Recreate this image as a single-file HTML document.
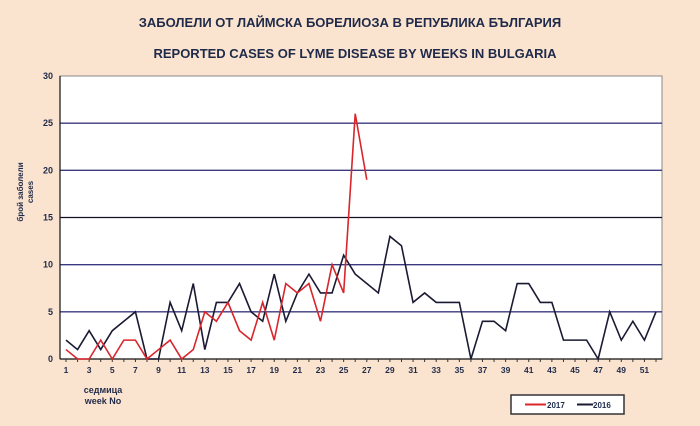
<!DOCTYPE html>
<html><head><meta charset="utf-8"><style>
body{margin:0;background:#fbe4cf;}
svg{display:block;font-family:"Liberation Sans",sans-serif;}
</style></head><body>
<svg id="c" width="700" height="426">
<rect width="700" height="426" fill="#fbe4cf"/>
<text x="350" y="27" text-anchor="middle" font-size="13" font-weight="bold" fill="#1f2a4a">ЗАБОЛЕЛИ ОТ ЛАЙМСКА БОРЕЛИОЗА В РЕПУБЛИКА БЪЛГАРИЯ</text>
<text x="355" y="58" text-anchor="middle" font-size="13" font-weight="bold" fill="#1f2a4a">REPORTED CASES OF LYME DISEASE BY WEEKS IN  BULGARIA</text>
<rect x="60" y="76" width="602" height="283" fill="#fff" stroke="#888"/>
<g id="grid"></g>
<g id="axes"></g>
<g id="lines"></g>
<text transform="translate(23,192) rotate(-90)" text-anchor="middle" font-size="8" font-weight="bold" fill="#1f2a4a">брой заболели</text>
<text transform="translate(33,192) rotate(-90)" text-anchor="middle" font-size="8" font-weight="bold" fill="#1f2a4a">cases</text>
<text x="103" y="393" text-anchor="middle" font-size="9" font-weight="bold" fill="#1f2a4a">седмица</text>
<text x="103" y="404" text-anchor="middle" font-size="9" font-weight="bold" fill="#1f2a4a">week No</text>
<g>
<rect x="511" y="395" width="113" height="19" fill="#fff" stroke="#333" stroke-width="1.5"/>
<line x1="525" y1="404.5" x2="546" y2="404.5" stroke="#d9252b" stroke-width="2"/>
<text x="547" y="408" font-size="8" font-weight="bold" fill="#1f2a4a">2017</text>
<line x1="577" y1="404.5" x2="593" y2="404.5" stroke="#1a1a33" stroke-width="2"/>
<text x="593" y="408" font-size="8" font-weight="bold" fill="#1f2a4a">2016</text>
</g>
</svg>
<script>
const weeks=[];for(let i=1;i<=52;i++)weeks.push(i);
const yTicks=[0,5,10,15,20,25,30];
const s2016=[2,1,3,1,3,4,5,0,0,6,3,8,1,6,6,8,5,4,9,4,7,9,7,7,11,9,8,7,13,12,6,7,6,6,6,0,4,4,3,8,8,6,6,2,2,2,0,5,2,4,2,5];
const s2017=[1,0,0,2,0,2,2,0,1,2,0,1,5,4,6,3,2,6,2,8,7,8,4,10,7,26,19];
const NS="http://www.w3.org/2000/svg";
const xs=w=>66+(w-1)*(656-66)/51;
const ys=v=>359-v*(283/30);
function mk(t,a,p){const e=document.createElementNS(NS,t);for(const k in a)e.setAttribute(k,a[k]);p.appendChild(e);return e;}
const grid=document.getElementById('grid'),axes=document.getElementById('axes'),lines=document.getElementById('lines');
yTicks.forEach(v=>{
 if(v>0&&v<30){const l=mk('line',{x1:60,x2:662,y1:ys(v),y2:ys(v),stroke:v==15?'#111122':'#3b3a80','stroke-width':1.3},grid);
 
 }
 const t=mk('text',{x:53,y:ys(v)+3,'text-anchor':'end','font-size':9,'font-weight':'bold',fill:'#1f2a4a'},axes);t.textContent=v;
 
 
});
mk('line',{x1:60,x2:60,y1:76,y2:359,stroke:'#111','stroke-width':1.2},axes);
mk('line',{x1:60,x2:662,y1:359,y2:359,stroke:'#111','stroke-width':1.2},axes);
weeks.forEach(w=>{
 mk('line',{x1:xs(w),x2:xs(w),y1:359,y2:362,stroke:'#333'},axes);
 if(w%2==1){const t=mk('text',{x:xs(w),y:373,'text-anchor':'middle','font-size':8.5,'font-weight':'bold',fill:'#1f2a4a'},axes);t.textContent=w;
 
 }
});
function series(arr,col,name){
 const p=mk('polyline',{points:arr.map((v,i)=>xs(weeks[i])+','+ys(v)).join(' '),fill:'none',stroke:col,'stroke-width':1.6,'stroke-linejoin':'miter'},lines);
 
 
}
series(s2016,'#1a1a33','line-2016');
series(s2017,'#d9252b','line-2017');
</script>
</body></html>
